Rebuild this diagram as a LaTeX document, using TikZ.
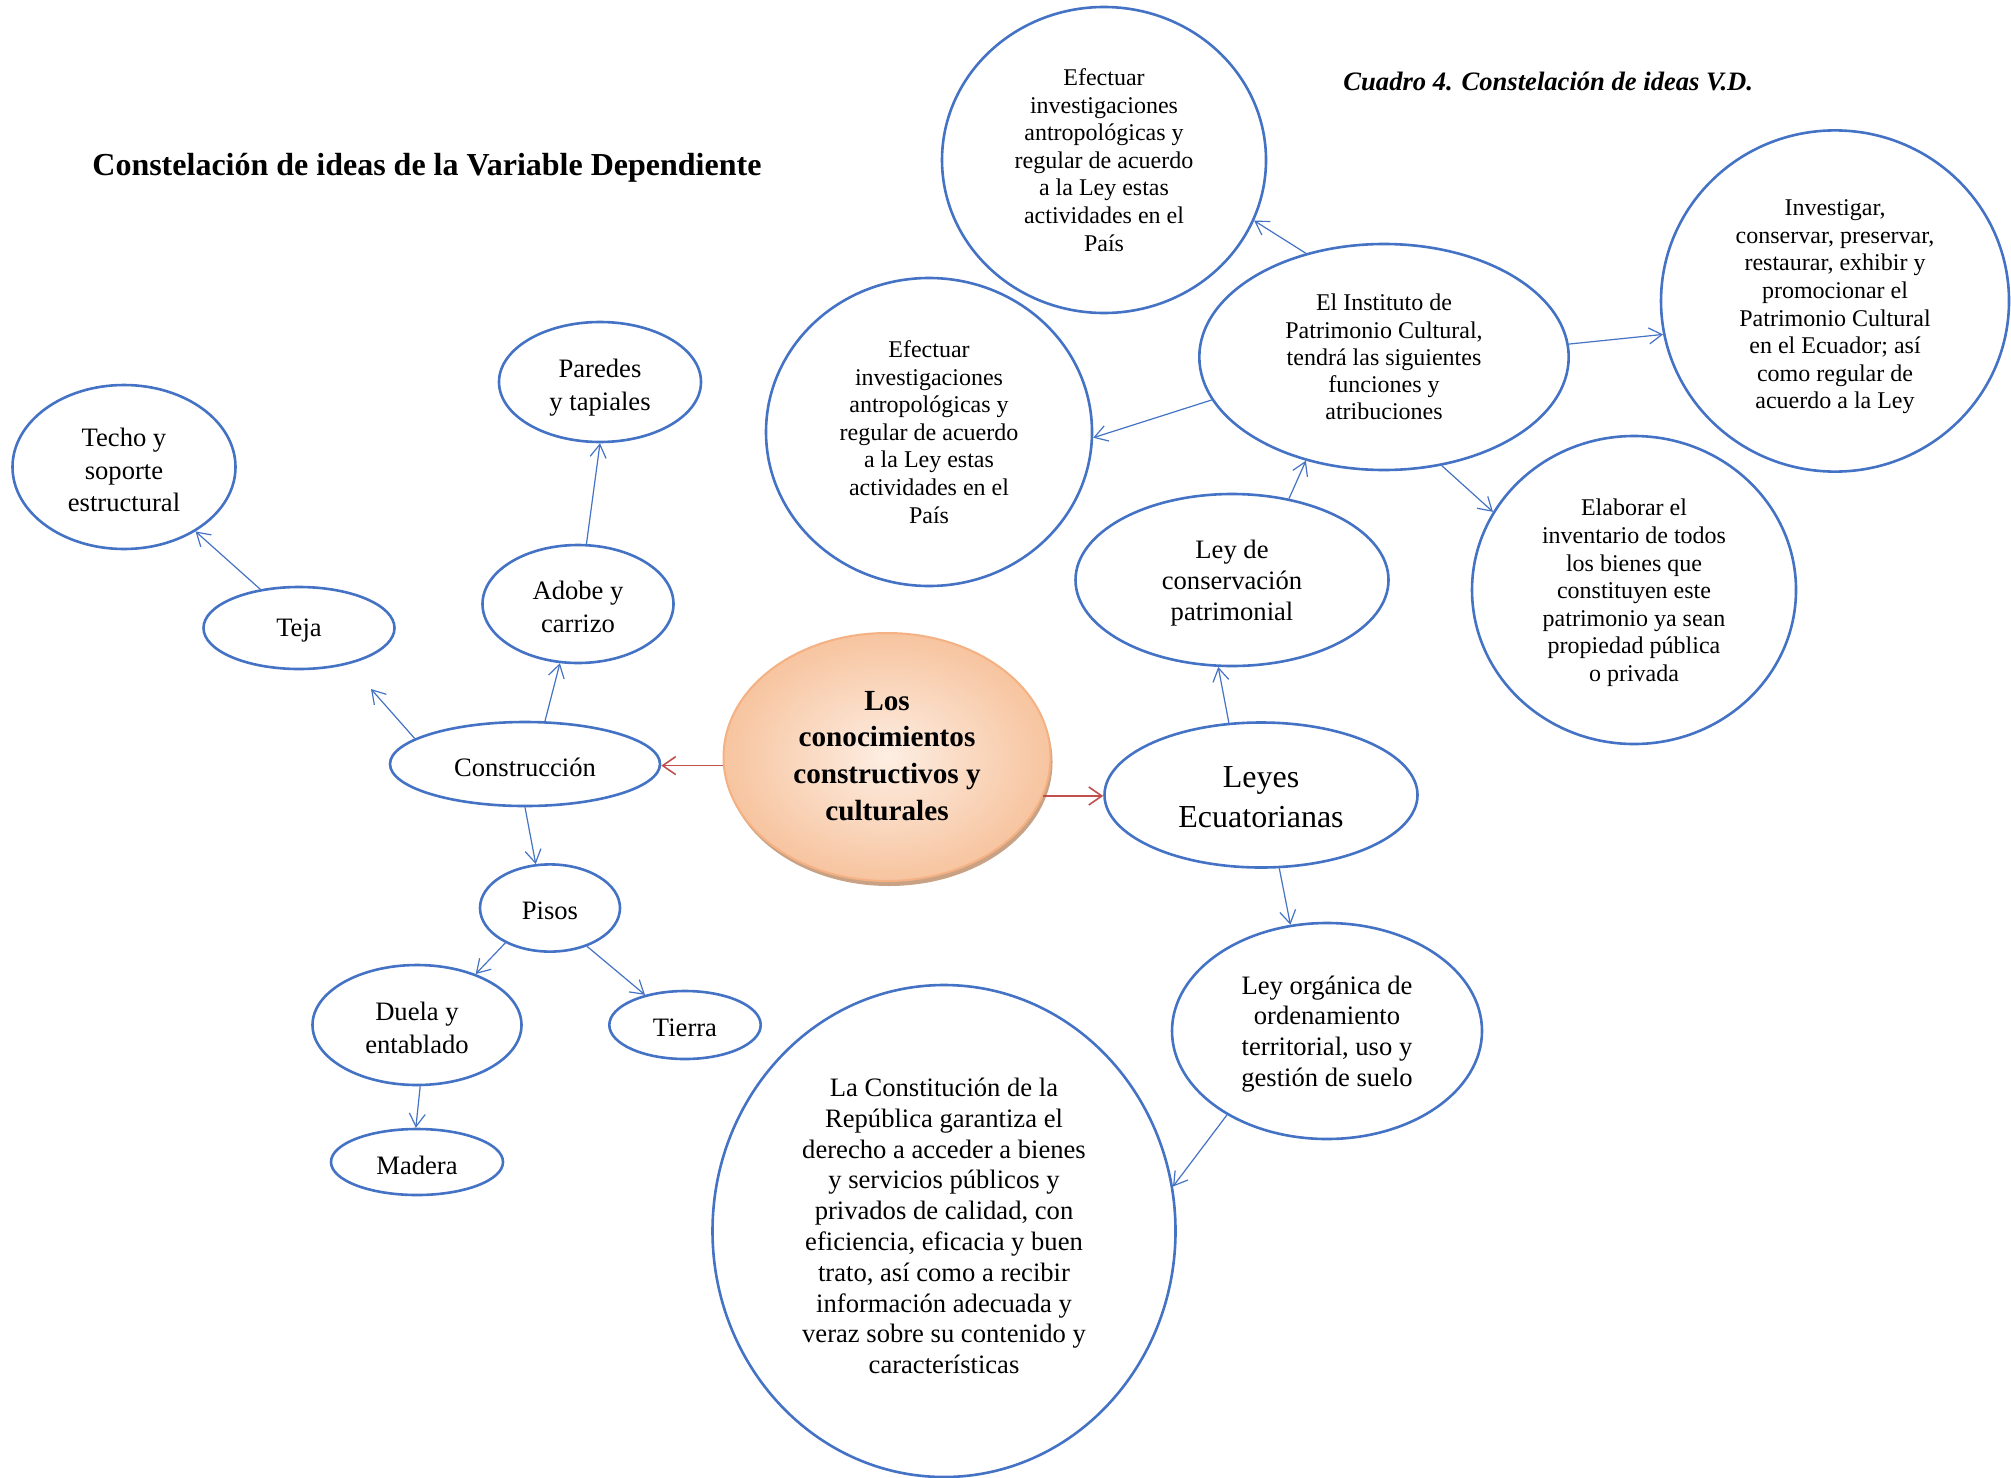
\documentclass[tikz,border=0pt]{standalone}
\usepackage{fontspec}
\setmainfont{Liberation Serif}
\usetikzlibrary{shapes.geometric,arrows.meta,shadows}
\definecolor{bblue}{HTML}{4472C4}
\definecolor{rred}{HTML}{C0504D}
\definecolor{orline}{HTML}{F4B183}
\definecolor{orin}{HTML}{FDEEE3}
\definecolor{orout}{HTML}{F7C49F}
\definecolor{shad}{HTML}{C9A285}
\begin{document}
\begin{tikzpicture}[x=0.5pt,y=-0.5pt,
  bub/.style={ellipse, draw=bblue, line width=1.3pt, inner sep=0pt},
  txt/.style={align=center, inner sep=0pt, yshift=-1.5pt, font=\fontsize{13.3}{16.4}\selectfont},
  txtb/.style={align=center, inner sep=0pt, yshift=-1.5pt, font=\fontsize{13.3}{15.4}\selectfont},
  sm/.style={align=center, inner sep=0pt, font=\fontsize{12}{13.8}\selectfont},
  conn/.style={draw=bblue, line width=0.6pt, -{Straight Barb[length=6.5pt,width=8pt]}},
  rconn/.style={draw=rred, line width=0.8pt, -{Straight Barb[length=6.5pt,width=9pt]}}]
\useasboundingbox (0,0) rectangle (2011,1477);

% titles
\node[anchor=west, inner sep=0pt, font=\bfseries\fontsize{16}{19}\selectfont] (title) at (92,168) {Constelación de ideas de la Variable Dependiente};
\node[anchor=west, inner sep=0pt, font=\bfseries\itshape\fontsize{13.3}{16}\selectfont] (caption) at (1343,81) {Cuadro 4. Constelación de ideas V.D.};

% central node
\node[ellipse, draw=orline, line width=1pt, inner sep=0pt, minimum width=163.5pt, minimum height=124pt,
  inner color=orin, outer color=orout,
  drop shadow={shadow xshift=1pt, shadow yshift=-2.5pt, fill=shad, opacity=1}] (cen) at (887,757) {};
\node[align=center, inner sep=0pt, font=\bfseries\fontsize{14.6}{18.4}\selectfont] (cenT) at (887,756) {Los\\conocimientos\\constructivos y\\culturales};

% left side
\node[bub, minimum width=135pt, minimum height=42pt] (con) at (525,764) {};
\node[txt] (conT) at (con) {Construcción};
\node[bub, minimum width=95.5pt, minimum height=41pt] (teja) at (299,628) {};
\node[txt] (tejaT) at (teja) {Teja};
\node[bub, minimum width=111.5pt, minimum height=82pt] (techo) at (124,467) {};
\node[txt] (techoT) at (techo) {Techo y\\soporte\\estructural};
\node[bub, minimum width=95.5pt, minimum height=59pt] (adobe) at (578,604) {};
\node[txt] (adobeT) at (adobe) {Adobe y\\carrizo};
\node[bub, minimum width=101pt, minimum height=60pt] (pared) at (600,382) {};
\node[txt] (paredT) at (600,385) {Paredes\\y tapiales};
\node[bub, minimum width=70pt, minimum height=43.6pt] (pisos) at (550,908) {};
\node[txt] (pisosT) at (pisos) {Pisos};
\node[bub, minimum width=104.5pt, minimum height=60pt] (duela) at (417,1025) {};
\node[txt] (duelaT) at (duela) {Duela y\\entablado};
\node[bub, minimum width=75.7pt, minimum height=34pt] (tierra) at (685,1025) {};
\node[txt] (tierraT) at (tierra) {Tierra};
\node[bub, minimum width=86pt, minimum height=33pt] (madera) at (417,1162) {};
\node[txt] (maderaT) at (madera) {Madera};
\coordinate (tejaEnd) at (371,689);

% right side
\node[bub, minimum width=156.5pt, minimum height=72.5pt] (leyes) at (1261,795) {};
\node[align=center, inner sep=0pt, font=\fontsize{16}{19.9}\selectfont] (leyesT) at (1261,797) {Leyes\\Ecuatorianas};
\node[bub, minimum width=156.5pt, minimum height=86pt] (ldc) at (1232,580) {};
\node[txtb] (ldcT) at (ldc) {Ley de\\conservación\\patrimonial};
\node[bub, minimum width=184.7pt, minimum height=113pt] (inst) at (1384,357) {};
\node[align=center, inner sep=0pt, font=\fontsize{12}{13.6}\selectfont] (instT) at (inst) {El Instituto de\\Patrimonio Cultural,\\tendrá las siguientes\\funciones y\\atribuciones};
\node[bub, minimum width=162pt, minimum height=153pt] (eft) at (1104,160) {};
\node[sm] (eftT) at (eft) {Efectuar\\investigaciones\\antropológicas y\\regular de acuerdo\\a la Ley estas\\actividades en el\\País};
\node[bub, minimum width=163pt, minimum height=154pt] (efl) at (929,432) {};
\node[sm] (eflT) at (efl) {Efectuar\\investigaciones\\antropológicas y\\regular de acuerdo\\a la Ley estas\\actividades en el\\País};
\node[bub, minimum width=174pt, minimum height=170.6pt] (inv) at (1835,301) {};
\node[sm] (invT) at (1835,307) {Investigar,\\conservar, preservar,\\restaurar, exhibir y\\promocionar el\\Patrimonio Cultural\\en el Ecuador; así\\como regular de\\acuerdo a la Ley};
\node[bub, minimum width=162pt, minimum height=154pt] (elab) at (1634,590) {};
\node[sm] (elabT) at (1634,593) {Elaborar el\\inventario de todos\\los bienes que\\constituyen este\\patrimonio ya sean\\propiedad pública\\o privada};
\node[bub, minimum width=155pt, minimum height=108pt] (lo) at (1327,1031) {};
\node[txtb] (loT) at (lo) {Ley orgánica de\\ordenamiento\\territorial, uso y\\gestión de suelo};
\node[bub, minimum width=231.5pt, minimum height=246pt] (cons) at (944,1231) {};
\node[txtb] (consT) at (944,1223) {La Constitución de la\\República garantiza el\\derecho a acceder a bienes\\y servicios públicos y\\privados de calidad, con\\eficiencia, eficacia y buen\\trato, así como a recibir\\información adecuada y\\veraz sobre su contenido y\\características};

% connectors
\draw[rconn] (cen.183) -- (con.east |- cen.183);
\draw[rconn] (cen.-14) -- (leyes.west |- cen.-14);
\draw[conn] (con.167) -- (tejaEnd);
\draw[conn] (teja.135.5) -- (techo.-42.6);
\draw[conn] (con.65.2) -- (adobe.253.4);
\draw[conn] (adobe.82.2) -- (pared.270);
\draw[conn] (con.270) -- (pisos.108.3);
\draw[conn] (pisos.218.2) -- (duela.41.9);
\draw[conn] (pisos.-46.7) -- (tierra.143);
\draw[conn] (duela.273.5) -- (madera.92.4);
\draw[conn] (leyes.114.4) -- (ldc.261.8);
\draw[conn] (ldc.55.3) -- (inst.233.9);
\draw[conn] (inst.127.4) -- (eft.-22.1);
\draw[conn] (inst.194) -- (efl.-2.3);
\draw[conn] (inst.4.1) -- (inv.191.6);
\draw[conn] (inst.-62.6) -- (elab.151);
\draw[conn] (leyes.-76.5) -- (lo.109.1);
\draw[conn] (lo.220.8) -- (cons.11.5);
\end{tikzpicture}
\end{document}
